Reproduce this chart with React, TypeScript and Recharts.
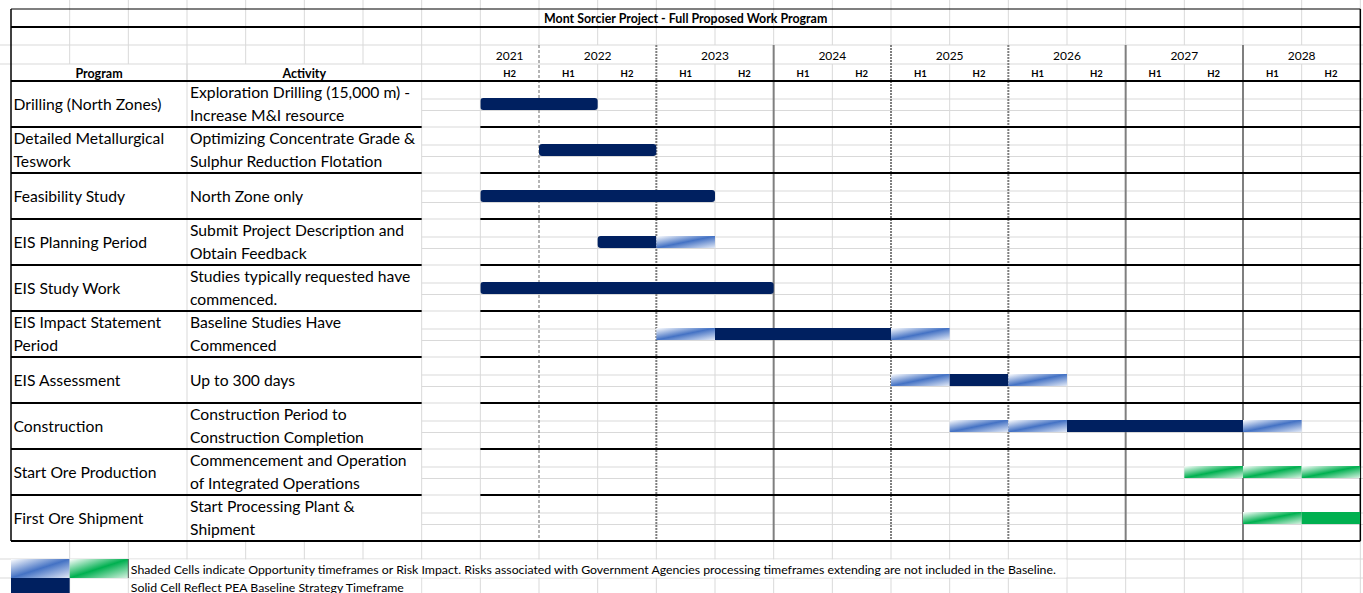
import { BarChart, Bar, XAxis, YAxis } from 'recharts';

type Kind = 'base' | 'risk' | 'green' | 'greenSolid';
type Seg = [number, number, Kind];

const title = 'Mont Sorcier Project - Full Proposed Work Program';
const years = [2021, 2022, 2023, 2024, 2025, 2026, 2027, 2028];
const halves = ['H2', 'H1', 'H2', 'H1', 'H2', 'H1', 'H2', 'H1', 'H2', 'H1', 'H2', 'H1', 'H2', 'H1', 'H2'];

const programs = [
  'Drilling (North Zones)',
  'Detailed Metallurgical\nTeswork',
  'Feasibility Study',
  'EIS Planning Period',
  'EIS Study Work',
  'EIS Impact Statement\nPeriod',
  'EIS Assessment',
  'Construction',
  'Start Ore Production',
  'First Ore Shipment',
];

const activities = [
  'Exploration Drilling (15,000 m) -\nIncrease M&I resource',
  'Optimizing Concentrate Grade &\nSulphur Reduction Flotation',
  'North Zone only',
  'Submit Project Description and\nObtain Feedback',
  'Studies typically requested have\ncommenced.',
  'Baseline Studies Have\nCommenced',
  'Up to 300 days',
  'Construction Period to\nConstruction Completion',
  'Commencement and Operation\nof Integrated Operations',
  'Start Processing Plant &\nShipment',
];

// periods in years (2021.5 = start of 2021 H2)
const drillingSegs: Seg[] = [[2021.5, 2022.5, 'base']];
const metallurgySegs: Seg[] = [[2022, 2023, 'base']];
const feasibilitySegs: Seg[] = [[2021.5, 2023.5, 'base']];
const eisPlanningSegs: Seg[] = [[2022.5, 2023, 'base'], [2023, 2023.5, 'risk']];
const eisStudySegs: Seg[] = [[2021.5, 2024, 'base']];
const eisImpactSegs: Seg[] = [[2023, 2023.5, 'risk'], [2023.5, 2025, 'base'], [2025, 2025.5, 'risk']];
const eisAssessSegs: Seg[] = [[2025, 2025.5, 'risk'], [2025.5, 2026, 'base'], [2026, 2026.5, 'risk']];
const constructionSegs: Seg[] = [[2025.5, 2026, 'risk'], [2026, 2026.5, 'risk'], [2026.5, 2028, 'base'], [2028, 2028.5, 'risk']];
const oreProductionSegs: Seg[] = [[2027.5, 2028, 'green'], [2028, 2028.5, 'green'], [2028.5, 2029, 'green']];
const oreShipmentSegs: Seg[] = [[2028, 2028.5, 'green'], [2028.5, 2029, 'greenSolid']];

const taskSegs = [
  drillingSegs, metallurgySegs, feasibilitySegs, eisPlanningSegs, eisStudySegs,
  eisImpactSegs, eisAssessSegs, constructionSegs, oreProductionSegs, oreShipmentSegs,
];

const legendShaded =
  'Shaded Cells indicate Opportunity timeframes or Risk Impact. Risks associated with Government Agencies processing timeframes extending are not included in the Baseline.';
const legendSolid = 'Solid Cell Reflect PEA Baseline Strategy Timeframe';

const rows = programs.map((p, r) => {
  const row: any = { program: p, segs: taskSegs[r] };
  taskSegs[r].forEach(([a, b], i) => {
    row['s' + i] = [a, b];
  });
  return row;
});

// layout
const W = 1363;
const H = 593;
const COL = 880 / 15;
const LEFT = 11;
const PX = LEFT + 8 * COL;
const PR = LEFT + 23 * COL;
const TOP = 81;
const RH = 46;
const BOTTOM = TOP + RH * programs.length;
const T0 = 2021.5;
const T1 = 2029;
const xOf = (t: number) => PX + ((t - T0) * (PR - PX)) / (T1 - T0);
const colX = (i: number) => LEFT + i * COL;

const FONT = 'Lato, "Open Sans", sans-serif';
const GRID = '#d9d9d9';
const NAVY = '#002060';

const fills: Record<Kind, string> = {
  base: NAVY,
  risk: 'url(#riskGrad)',
  green: 'url(#greenGrad)',
  greenSolid: '#00B050',
};

function roundedPath(x: number, y: number, w: number, h: number, rl: number, rr: number) {
  return `M${x + rl},${y} H${x + w - rr} Q${x + w},${y} ${x + w},${y + rr} V${y + h - rr} Q${x + w},${y + h} ${x + w - rr},${y + h} H${x + rl} Q${x},${y + h} ${x},${y + h - rl} V${y + rl} Q${x},${y} ${x + rl},${y} Z`;
}

function segShape(props: any, i: number) {
  const { x, y, width, height, payload } = props;
  const segs: Seg[] = payload?.segs || [];
  const seg = segs[i];
  if (!seg || !width) return <g />;
  const [a, b, kind] = seg;
  if (kind === 'base') {
    const rl = segs.some((s) => s[1] === a) ? 0 : 3;
    const rr = segs.some((s) => s[0] === b) ? 0 : 3;
    return <path d={roundedPath(x, y, width, height, rl, rr)} fill={fills[kind]} />;
  }
  return <rect x={x} y={y} width={width} height={height} fill={fills[kind]} />;
}

function MultiLine({ x, cy, text, size = 15.7 }: { x: number; cy: number; text: string; size?: number }) {
  const lines = text.split('\n');
  const offsets = lines.length === 1 ? [0] : [-12, 11];
  return (
    <>
      {lines.map((l, k) => (
        <text key={k} x={x} y={cy + offsets[k]} dominantBaseline="central" fontSize={size} fontFamily={FONT} fill="#000">
          {l}
        </text>
      ))}
    </>
  );
}

function Sheet() {
  const lines: JSX.Element[] = [];
  let k = 0;
  const ln = (x1: number, y1: number, x2: number, y2: number, stroke = GRID, sw = 1, dash?: string) =>
    lines.push(<line key={k++} x1={x1} y1={y1} x2={x2} y2={y2} stroke={stroke} strokeWidth={sw} strokeDasharray={dash} />);

  // header gridlines
  ln(0, 45, W, 45);
  ln(0, 64, W, 64);
  // legend rows
  ln(0, 559, W, 559);
  ln(0, 578, W, 578);

  // sub-row lines
  programs.forEach((_, r) => {
    const t = TOP + r * RH;
    ln(colX(7), t + 18, W, t + 18);
    ln(colX(7), t + 29.5, W, t + 29.5);
    if (r > 0) ln(colX(7), t, colX(8), t);
  });

  // vertical gridlines
  for (let i = 1; i <= 24; i++) {
    const x = colX(i);
    if (i < 7) {
      ln(x, 0, x, i === 3 ? BOTTOM : 64);
      if (i === 3) ln(x, 64, x, 81);
      ln(x, BOTTOM, x, H);
    } else if (i === 7 || i === 8) {
      ln(x, 0, x, H);
    } else if (i >= 23) {
      ln(x, 0, x, H);
    } else {
      const yearEdge = (i - 9) % 2 === 0;
      if (yearEdge) {
        ln(x, 0, x, 45);
        ln(x, BOTTOM, x, H);
      } else {
        ln(x, 0, x, 45);
        ln(x, 64, x, H);
      }
    }
  }
  // year separators
  for (let i = 9; i <= 21; i += 2) {
    const x = colX(i);
    const style = i === 9 ? ['#6b6b6b', 1, '3,2'] : i === 13 || i === 19 || i === 21 ? ['#7f7f7f', 2, undefined] : ['#7f7f7f', 2, '2,1'];
    ln(x, 45, x, BOTTOM, style[0] as string, style[1] as number, style[2] as string | undefined);
  }

  return (
    <svg width={W} height={H} style={{ position: 'absolute', left: 0, top: 0 }}>
      <defs>
        <linearGradient id="riskGrad" x1="0" y1="0" x2="1" y2="1">
          <stop offset="0" stopColor="#ffffff" />
          <stop offset="0.5" stopColor="#4472C4" />
          <stop offset="1" stopColor="#e3eaf7" />
        </linearGradient>
        <linearGradient id="greenGrad" x1="0" y1="0" x2="1" y2="1">
          <stop offset="0" stopColor="#ffffff" />
          <stop offset="0.5" stopColor="#00B050" />
          <stop offset="1" stopColor="#d8f2e2" />
        </linearGradient>
      </defs>
      <rect x={0} y={0} width={W} height={H} fill="#fff" />
      {/* title cell */}
      <rect x={LEFT} y={9} width={PR - LEFT} height={18} fill="#fff" />
      {lines}
      {/* black borders */}
      <line x1={LEFT} y1={9} x2={PR} y2={9} stroke="#000" strokeWidth={1.2} />
      <line x1={LEFT} y1={27} x2={PR} y2={27} stroke="#000" strokeWidth={2} />
      <line x1={LEFT} y1={TOP} x2={PR} y2={TOP} stroke="#000" strokeWidth={2} />
      {programs.slice(1).map((_, r) => {
        const y = TOP + (r + 1) * RH;
        return (
          <g key={r}>
            <line x1={LEFT} y1={y} x2={colX(7)} y2={y} stroke="#000" strokeWidth={2} />
            <line x1={PX} y1={y} x2={PR} y2={y} stroke="#000" strokeWidth={2} />
          </g>
        );
      })}
      <line x1={LEFT} y1={BOTTOM} x2={PR} y2={BOTTOM} stroke="#000" strokeWidth={2} />
      <line x1={LEFT} y1={9} x2={LEFT} y2={BOTTOM} stroke="#000" strokeWidth={1.5} />
      <line x1={PR} y1={9} x2={PR} y2={BOTTOM} stroke="#000" strokeWidth={1.5} />

      {/* header text */}
      <text x={(LEFT + PR) / 2} y={18.5} textAnchor="middle" dominantBaseline="central" fontSize={12.4} fontWeight="bold" fontFamily={FONT}>
        {title}
      </text>
      {years.map((yr) => {
        const a = Math.max(yr, T0);
        return (
          <text key={yr} x={(xOf(a) + xOf(yr + 1)) / 2} y={55} textAnchor="middle" dominantBaseline="central" fontSize={12} fontFamily={FONT}>
            {yr}
          </text>
        );
      })}
      {halves.map((h, i) => (
        <text key={i} x={xOf(T0 + i * 0.5 + 0.25)} y={73} textAnchor="middle" dominantBaseline="central" fontSize={9.5} fontWeight="bold" fontFamily={FONT}>
          {h}
        </text>
      ))}
      <text x={(colX(0) + colX(3)) / 2} y={73} textAnchor="middle" dominantBaseline="central" fontSize={12.5} fontWeight="bold" fontFamily={FONT}>
        Program
      </text>
      <text x={(colX(3) + colX(7)) / 2} y={73} textAnchor="middle" dominantBaseline="central" fontSize={12.5} fontWeight="bold" fontFamily={FONT}>
        Activity
      </text>

      {/* row labels */}
      {programs.map((p, r) => (
        <MultiLine key={'p' + r} x={LEFT + 2.5} cy={TOP + r * RH + 23} text={p} />
      ))}
      {activities.map((a, r) => (
        <MultiLine key={'a' + r} x={colX(3) + 3} cy={TOP + r * RH + 23} text={a} />
      ))}

      {/* legend */}
      <rect x={LEFT} y={559} width={COL} height={19} fill="url(#riskGrad)" />
      <rect x={LEFT + COL} y={559} width={COL} height={19} fill="url(#greenGrad)" />
      <rect x={LEFT} y={578} width={COL} height={15} fill={NAVY} />
      <rect x={colX(2) + 0.5} y={559.5} width={colX(18) - colX(2) - 1} height={18} fill="#fff" />
      <line x1={colX(2)} y1={559} x2={colX(2)} y2={578} stroke="#595959" strokeWidth={1} />
      <rect x={colX(2) + 0.5} y={578.5} width={colX(7) - colX(2) - 1} height={15} fill="#fff" />
      <text x={colX(2) + 2.5} y={569} dominantBaseline="central" fontSize={12.3} fontFamily={FONT}>
        {legendShaded}
      </text>
      <text x={colX(2) + 2.5} y={587} dominantBaseline="central" fontSize={12.3} fontFamily={FONT}>
        {legendSolid}
      </text>
    </svg>
  );
}

export default function App() {
  return (
    <div style={{ position: 'absolute', left: 0, top: 0, width: W, height: H, background: '#fff', overflow: 'hidden' }}>
      <Sheet />
      <div style={{ position: 'absolute', left: 0, top: 0 }}>
        <BarChart
          width={W}
          height={H}
          data={rows}
          layout="vertical"
          margin={{ top: TOP, right: W - PR, bottom: H - BOTTOM, left: PX }}
          barSize={12}
          barGap={-12}
        >
          <XAxis type="number" domain={[T0, T1]} allowDataOverflow hide />
          <YAxis type="category" dataKey="program" hide />
          {[0, 1, 2, 3].map((i) => (
            <Bar key={i} dataKey={'s' + i} isAnimationActive={false} shape={(p: any) => segShape(p, i)} />
          ))}
        </BarChart>
      </div>
    </div>
  );
}
